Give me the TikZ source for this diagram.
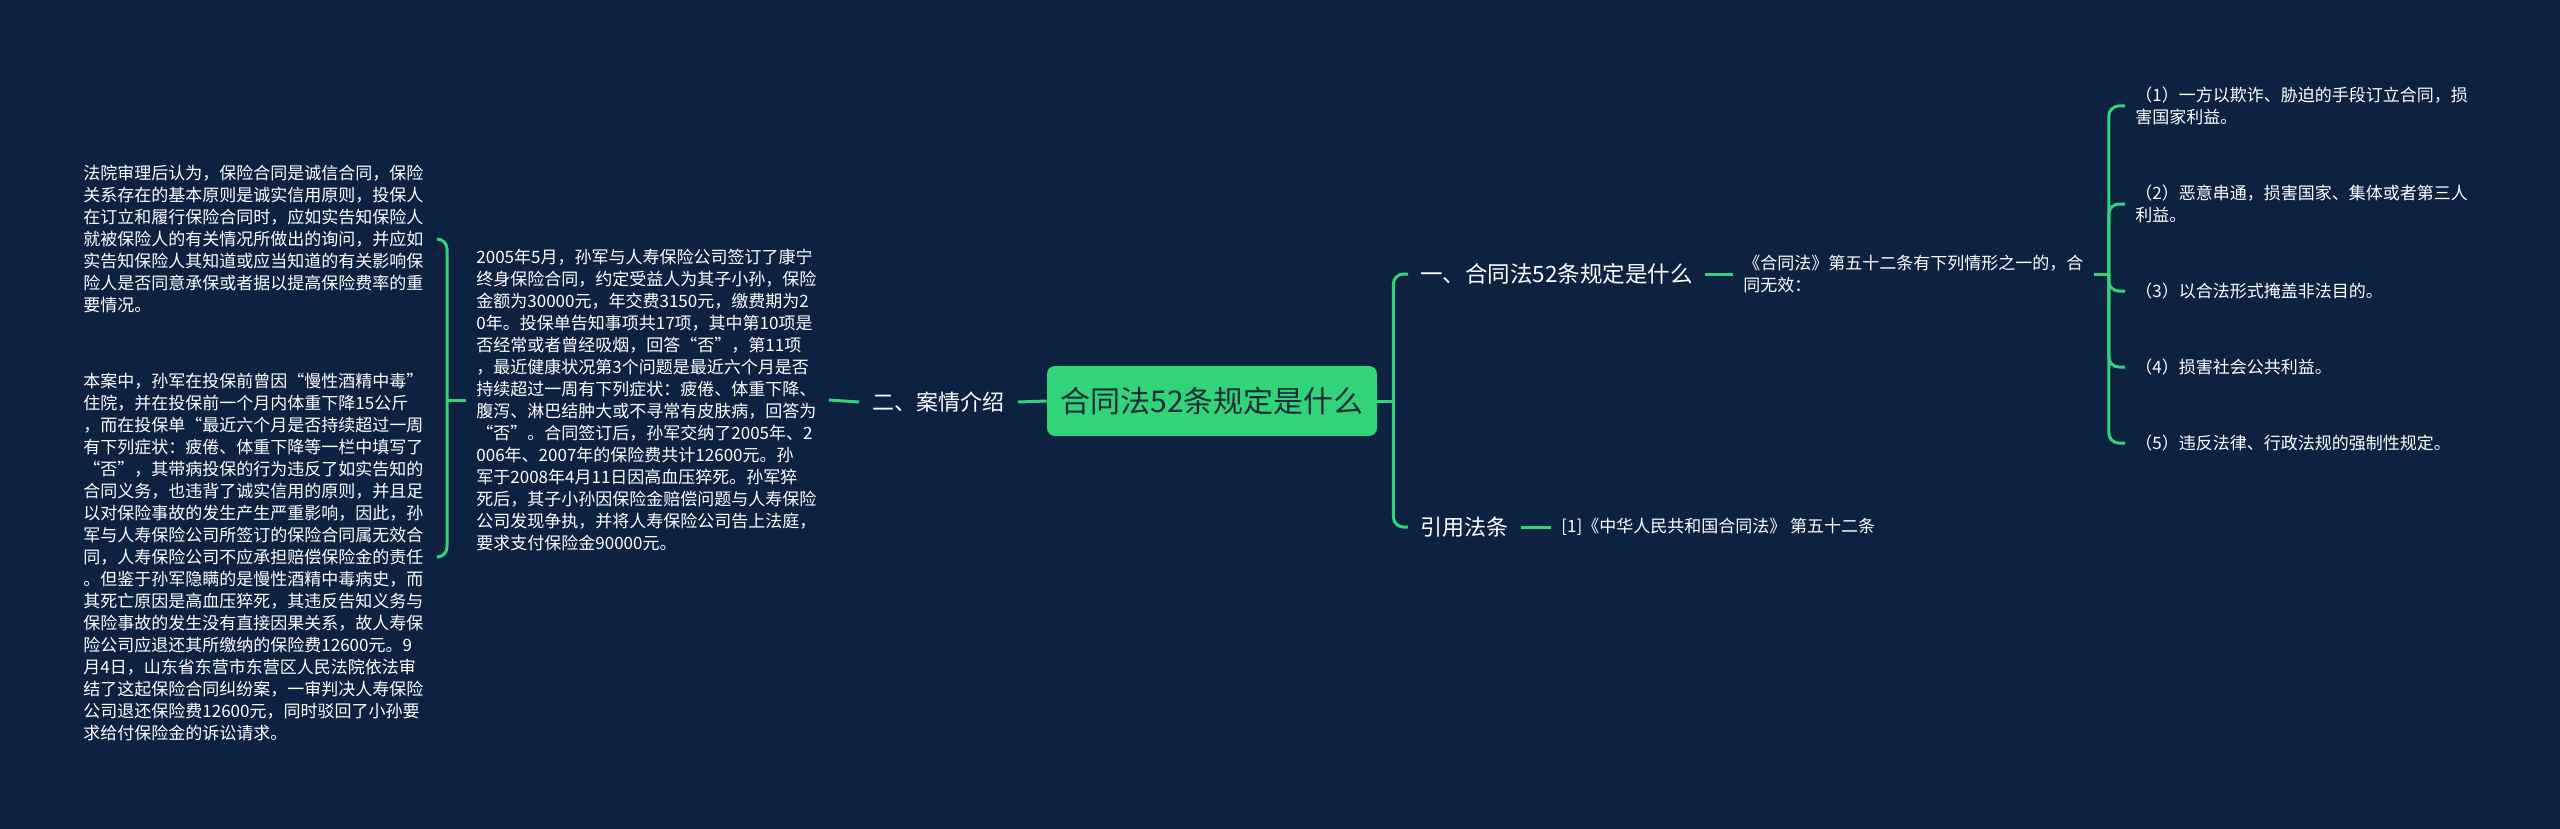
\documentclass[tikz,border=0pt]{standalone}
\usepackage{fontspec}
\setmainfont{Noto Sans CJK SC}
\usetikzlibrary{calc}
\definecolor{bg}{HTML}{0C2240}
\definecolor{gr}{HTML}{31D479}
\definecolor{roottxt}{HTML}{1B2B3A}
\begin{document}
\begin{tikzpicture}[x=0.5pt,y=-0.5pt,
  conn/.style={draw=gr,line width=1.5pt,rounded corners=5pt},
  small/.style={text=white,font=\fontsize{8.5pt}{11pt}\selectfont,align=left,inner ysep=0pt,inner xsep=5pt,anchor=west},
  lbl/.style={text=white,font=\fontsize{11pt}{13pt}\selectfont,inner ysep=2pt,inner xsep=6.5pt,anchor=west},
  rootbox/.style={fill=gr,rounded corners=4pt,text=roottxt,font=\fontsize{15pt}{18pt}\selectfont,minimum width=165pt,minimum height=35pt,inner sep=0pt}]
\fill[bg] (0,0) rectangle (2560,829);
\useasboundingbox (0,0) rectangle (2560,829);

\node[rootbox] (root) at (1212,401) {合同法52条规定是什么};
\node[lbl] (case) at (859,402) {二、案情介绍};
\node[small,text width=171pt] (mid) at (466,400) {2005年5月，孙军与人寿保险公司签订了康宁\\终身保险合同，约定受益人为其子小孙，保险\\金额为30000元，年交费3150元，缴费期为2\\0年。投保单告知事项共17项，其中第10项是\\否经常或者曾经吸烟，回答“否”，第11项\\，最近健康状况第3个问题是最近六个月是否\\持续超过一周有下列症状：疲倦、体重下降、\\腹泻、淋巴结肿大或不寻常有皮肤病，回答为\\“否”。合同签订后，孙军交纳了2005年、2\\006年、2007年的保险费共计12600元。孙\\军于2008年4月11日因高血压猝死。孙军猝\\死后，其子小孙因保险金赔偿问题与人寿保险\\公司发现争执，并将人寿保险公司告上法庭，\\要求支付保险金90000元。};
\node[small,text width=172pt] (t1) at (73,239) {法院审理后认为，保险合同是诚信合同，保险\\关系存在的基本原则是诚实信用原则，投保人\\在订立和履行保险合同时，应如实告知保险人\\就被保险人的有关情况所做出的询问，并应如\\实告知保险人其知道或应当知道的有关影响保\\险人是否同意承保或者据以提高保险费率的重\\要情况。};
\node[small,text width=172pt] (t2) at (73,557) {本案中，孙军在投保前曾因“慢性酒精中毒”\\住院，并在投保前一个月内体重下降15公斤\\，而在投保单“最近六个月是否持续超过一周\\有下列症状：疲倦、体重下降等一栏中填写了\\“否”，其带病投保的行为违反了如实告知的\\合同义务，也违背了诚实信用的原则，并且足\\以对保险事故的发生产生严重影响，因此，孙\\军与人寿保险公司所签订的保险合同属无效合\\同，人寿保险公司不应承担赔偿保险金的责任\\。但鉴于孙军隐瞒的是慢性酒精中毒病史，而\\其死亡原因是高血压猝死，其违反告知义务与\\保险事故的发生没有直接因果关系，故人寿保\\险公司应退还其所缴纳的保险费12600元。9\\月4日，山东省东营市东营区人民法院依法审\\结了这起保险合同纠纷案，一审判决人寿保险\\公司退还保险费12600元，同时驳回了小孙要\\求给付保险金的诉讼请求。};

\node[lbl,inner xsep=6pt,font=\fontsize{11.25pt}{13pt}\selectfont] (b1) at (1408,274) {一、合同法52条规定是什么};
\node[small,text width=170pt] (b1c) at (1733,274) {《合同法》第五十二条有下列情形之一的，合\\同无效：};
\node[small,text width=170pt] (i1) at (2125,106) {（1）一方以欺诈、胁迫的手段订立合同，损\\害国家利益。};
\node[small,text width=170pt] (i2) at (2125,204) {（2）恶意串通，损害国家、集体或者第三人\\利益。};
\node[small,text width=170pt] (i3) at (2125,291) {（3）以合法形式掩盖非法目的。};
\node[small,text width=170pt] (i4) at (2125,367) {（4）损害社会公共利益。};
\node[small,text width=170pt] (i5) at (2125,443) {（5）违反法律、行政法规的强制性规定。};
\node[lbl,inner xsep=6pt] (b2) at (1408,527) {引用法条};
\node[small] (b2c) at (1551,527) {[1]《中华人民共和国合同法》 第五十二条};

\coordinate (ls) at ($(mid.west)+(-19,0)$);
\draw[conn] (mid.west) -- (ls);
\draw[conn] (ls) |- (t1.east);
\draw[conn] (ls) |- (t2.east);
\draw[conn] (mid.east) -- (case.west);
\draw[conn] (case.east) -- (root.west);
\coordinate (rs) at ($(root.east)+(16,0)$);
\draw[conn] (root.east) -- (rs);
\draw[conn] (rs) |- (b1.west);
\draw[conn] (rs) |- (b2.west);
\draw[conn] (b1.east) -- (b1c.west);
\coordinate (rs2) at ($(b1c.east)+(15,0)$);
\draw[conn] (b1c.east) -- (rs2);
\foreach \n in {i1,i2,i3,i4,i5} \draw[conn] (rs2) |- (\n.west);
\draw[conn] (b2.east) -- (b2c.west);
\end{tikzpicture}
\end{document}
